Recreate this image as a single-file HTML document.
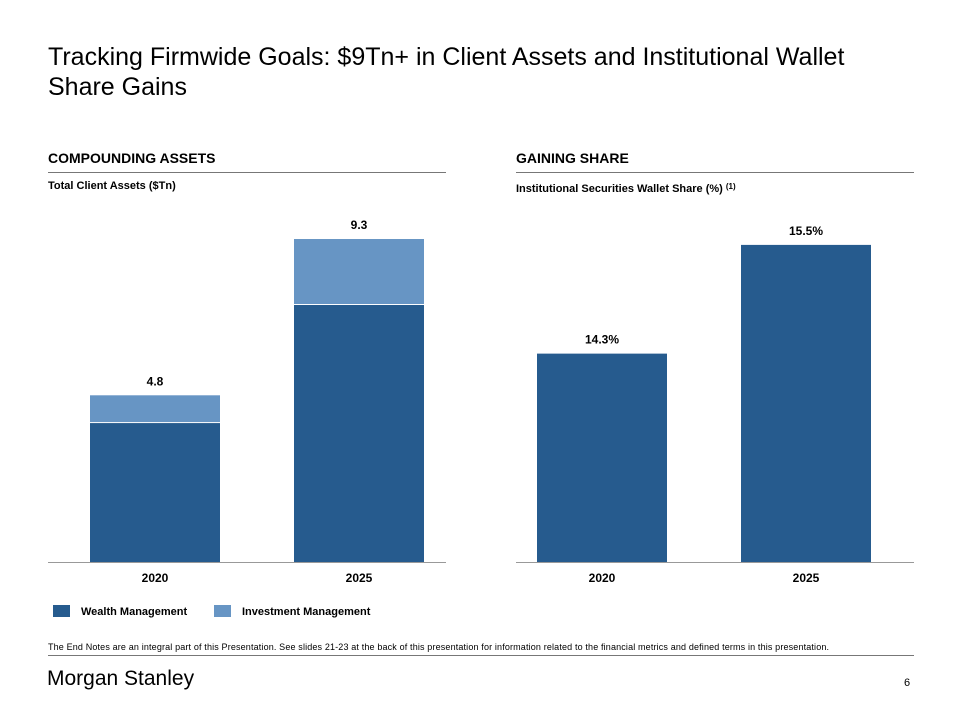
<!DOCTYPE html>
<html><head><meta charset="utf-8"><style>
body{margin:0;width:960px;height:720px;background:#fff;font-family:"Liberation Sans",Arial,sans-serif;overflow:hidden;position:relative}
.a{position:absolute}
</style></head><body>
<div class="a" style="left:48px;top:42px;font-size:25px;line-height:30px;color:#000;width:860px">Tracking Firmwide Goals: $9Tn+ in Client Assets and Institutional Wallet Share Gains</div>
<div class="a" style="left:48px;top:150px;font-size:14px;font-weight:bold">COMPOUNDING ASSETS</div>
<div class="a" style="left:48px;top:172px;width:398px;border-top:1px solid #777"></div>
<div class="a" style="left:48px;top:180px;font-size:11px;font-weight:bold">Total Client Assets ($Tn)</div>
<div class="a" style="left:516px;top:150px;font-size:14px;font-weight:bold">GAINING SHARE</div>
<div class="a" style="left:516px;top:172px;width:398px;border-top:1px solid #777"></div>
<div class="a" style="left:516px;top:180px;font-size:11px;line-height:13px;font-weight:bold">Institutional Securities Wallet Share (%) <span style="font-size:8px;vertical-align:3px">(1)</span></div>
<svg class="a" style="left:0;top:0" width="960" height="720" id="chart"></svg>
<div class="a" style="left:53px;top:605px;font-size:11px;font-weight:bold"><span style="display:inline-block;width:17px;height:12px;background:#265b8e;vertical-align:-2px;margin-right:11px"></span>Wealth Management</div>
<div class="a" style="left:214px;top:605px;font-size:11px;font-weight:bold"><span style="display:inline-block;width:17px;height:12px;background:#6795c4;vertical-align:-2px;margin-right:11px"></span>Investment Management</div>
<div class="a" style="left:48px;top:642px;font-size:9px;letter-spacing:0.15px;color:#000;white-space:nowrap">The End Notes are an integral part of this Presentation. See slides 21-23 at the back of this presentation for information related to the financial metrics and defined terms in this presentation.</div>
<div class="a" style="left:48px;top:655px;width:866px;border-top:1px solid #777"></div>
<div class="a" style="left:47px;top:667px;font-size:21px;letter-spacing:0px">Morgan Stanley</div>
<div class="a" style="left:904px;top:677px;font-size:11px">6</div>
<script>
const leftCats=["2020","2025"];
const wmVals=[4.0,7.4];
const imVals=[0.8,1.9];
const totalLabels=["4.8","9.3"];
const rightCats=["2020","2025"];
const shareVals=[14.3,15.5];
const shareLabels=["14.3%","15.5%"];
const NS="http://www.w3.org/2000/svg",svg=document.getElementById("chart");
function mk(t,a,txt){const e=document.createElementNS(NS,t);for(const k in a)e.setAttribute(k,a[k]);if(txt!=null)e.textContent=txt;svg.appendChild(e);return e;}
const base=562;
const yL=v=>base-v*34.73;
const yR=v=>base-(v-12)*90.6;
const xL=i=>90+i*204, xR=i=>537+i*204, bw=130;
let e=mk("line",{x1:48,x2:446,y1:base+0.5,y2:base+0.5,stroke:"#999"});

e=mk("line",{x1:516,x2:914,y1:base+0.5,y2:base+0.5,stroke:"#999"});

leftCats.forEach((c,i)=>{
 const x=xL(i),tw=yL(wmVals[i]),tt=yL(wmVals[i]+imVals[i]);
 let r=mk("rect",{x:x,y:tw,width:bw,height:base-tw,fill:"#265b8e"});
 
 r=mk("rect",{x:x,y:tt,width:bw,height:tw-tt-1,fill:"#6795c4"});
 
 let t=mk("text",{x:x+bw/2,y:tt-10,"text-anchor":"middle","font-size":12,"font-weight":"bold"},totalLabels[i]);
 
 t=mk("text",{x:x+bw/2,y:582,"text-anchor":"middle","font-size":12,"font-weight":"bold"},c);
 
});
rightCats.forEach((c,i)=>{
 const x=xR(i),t0=yR(shareVals[i]);
 let r=mk("rect",{x:x,y:t0,width:bw,height:base-t0,fill:"#265b8e"});
 
 let t=mk("text",{x:x+bw/2,y:t0-10,"text-anchor":"middle","font-size":12,"font-weight":"bold"},shareLabels[i]);
 
 t=mk("text",{x:x+bw/2,y:582,"text-anchor":"middle","font-size":12,"font-weight":"bold"},c);
 
});
</script>
</body></html>
